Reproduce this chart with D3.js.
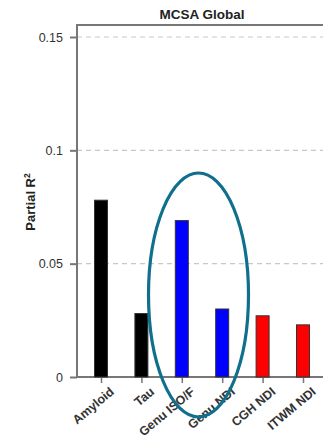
<!DOCTYPE html>
<html><head><meta charset="utf-8">
<script src="https://cdn.jsdelivr.net/npm/d3@7"></script>
<style>body{margin:0;background:#fff}svg{display:block}</style>
</head><body>
<script>
const categories = ["Amyloid","Tau","Genu ISO/F","Genu NDI","CGH NDI","ITWM NDI"];
const values = [0.078, 0.028, 0.069, 0.030, 0.027, 0.023];
const colors = ["#000000","#000000","#0000ff","#0000ff","#ff0000","#ff0000"];
const yTicks = [0, 0.05, 0.1, 0.15];
const yTickLabels = ["0","0.05","0.1","0.15"];
const highlighted = ["Genu ISO/F","Genu NDI"];

(function () {
const W = 323, H = 438;
const svg = d3.select("body").append("svg").attr("width", W).attr("height", H);
const mLeft = 77, mTop = 25, mBottom = 377;
const y = d3.scaleLinear().domain([0, 0.15]).range([mBottom, 37]);
const x = d3.scalePoint().domain(categories).range([101, 303]);
const font = "Liberation Sans, Arial, Helvetica, sans-serif";

// grid
svg.append("g").selectAll("line").data(yTicks.filter(d => d > 0)).join("line")
  .attr("x1", mLeft).attr("x2", W).attr("y1", d => y(d)).attr("y2", d => y(d))
  .attr("stroke", "#c8c8c8").attr("stroke-width", 1.2).attr("stroke-dasharray", "5,4");

// frame
svg.append("path").attr("d", `M${mLeft},${mBottom}V${mTop}H${W}`)
  .attr("fill", "none").attr("stroke", "#777").attr("stroke-width", 2);
svg.append("line").attr("x1", mLeft - 1).attr("x2", W).attr("y1", mBottom).attr("y2", mBottom)
  .attr("stroke", "#777").attr("stroke-width", 2);

// y axis
const ya = svg.append("g").attr("transform", `translate(${mLeft},0)`)
  .call(d3.axisLeft(y).tickValues(yTicks).tickFormat((d, i) => yTickLabels[i]).tickSize(7).tickPadding(7));
ya.select(".domain").remove();
ya.selectAll(".tick line").attr("stroke", "#777").attr("stroke-width", 2);
ya.selectAll("text").attr("font-family", font).attr("font-size", 12.5).attr("fill", "#333");

// x axis
const xa = svg.append("g").attr("transform", `translate(0,${mBottom})`)
  .call(d3.axisBottom(x).tickSize(6).tickPadding(4));
xa.select(".domain").remove();
xa.selectAll(".tick line").attr("stroke", "#777").attr("stroke-width", 1.5);
xa.selectAll("text").attr("font-family", font).attr("font-size", 12.5).attr("font-weight", "bold")
  .attr("fill", "#333").attr("text-anchor", "end").attr("dy", "0.35em")
  .attr("transform", "translate(4,5) rotate(-40)");

// bars
const bw = 13;
svg.append("g").selectAll("rect").data(categories).join("rect")
  .attr("x", d => x(d) - bw / 2).attr("width", bw)
  .attr("y", (d, i) => y(values[i])).attr("height", (d, i) => mBottom - y(values[i]))
  .attr("fill", (d, i) => colors[i]).attr("stroke", "#333").attr("stroke-width", 1);

// title
svg.append("text").attr("x", 202).attr("y", 19).attr("text-anchor", "middle")
  .attr("font-family", font).attr("font-weight", "bold").attr("font-size", 13.5).attr("fill", "#222")
  .text("MCSA Global");

// y label
const yl = svg.append("text").attr("transform", `translate(35,202) rotate(-90)`).attr("text-anchor", "middle")
  .attr("font-family", font).attr("font-weight", "bold").attr("font-size", 13).attr("fill", "#222");
yl.append("tspan").text("Partial R");
yl.append("tspan").attr("font-size", 8.5).attr("dy", "-0.55em").text("2");

// highlight ellipse
const cx = (x(highlighted[0]) + x(highlighted[1])) / 2 - 3.5;
svg.append("ellipse").attr("cx", cx).attr("cy", 295).attr("rx", 50).attr("ry", 122)
  .attr("fill", "none").attr("stroke", "#0f6f8c").attr("stroke-width", 3.2);
})();
</script>
</body></html>
